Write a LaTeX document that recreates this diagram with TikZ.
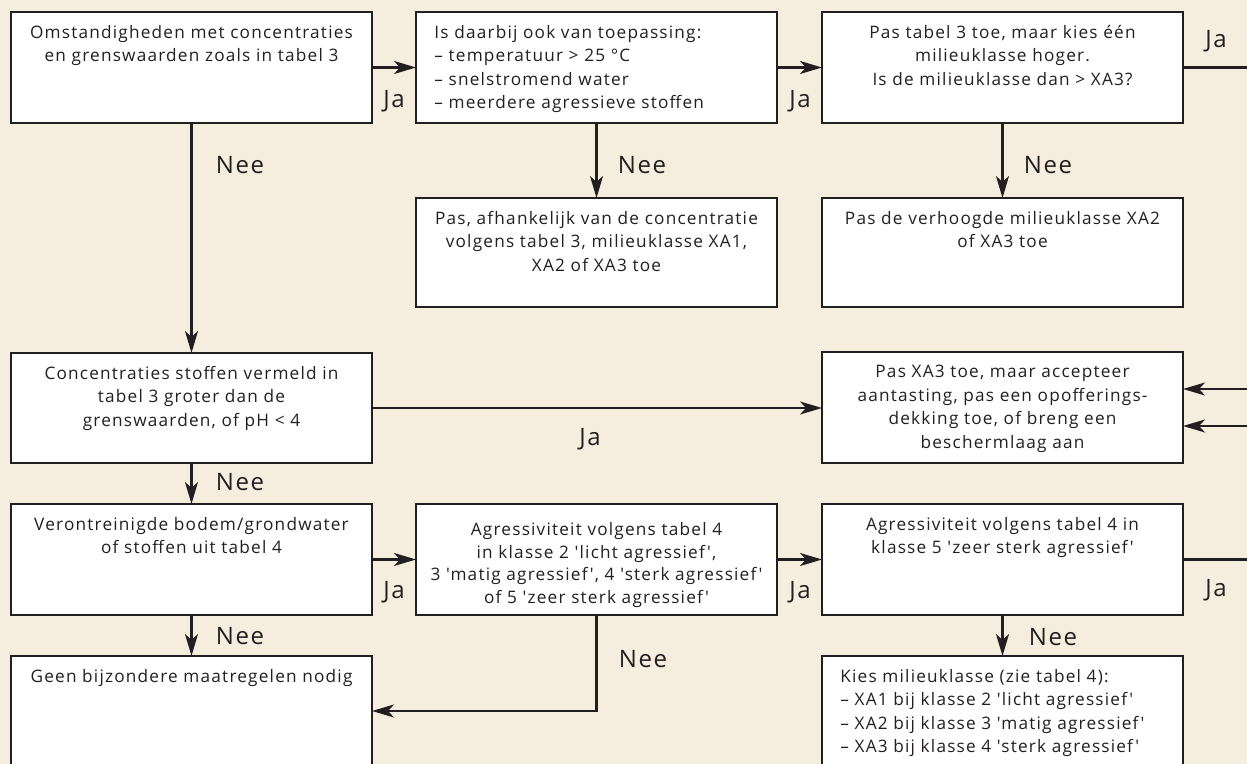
\documentclass[tikz,border=0pt]{standalone}
\usepackage{fontspec}
\setmainfont{Open Sans}[Ligatures=TeXOff,LetterSpace=7]
\usetikzlibrary{arrows.meta,positioning}
\definecolor{bgbeige}{RGB}{245,238,222}
\definecolor{ink}{RGB}{35,31,32}

\begin{document}
\begin{tikzpicture}[x=0.5pt,y=-0.5pt,
    box/.style={draw=ink,fill=white,line width=1.3pt,minimum width=180.5pt,inner sep=0pt,outer sep=0pt,anchor=north west},
    txt/.style={font=\fontsize{8.6}{11.7}\selectfont,text=ink,align=center,inner sep=0pt},
    lbl/.style={font=\fontsize{12}{14}\selectfont,text=ink,inner sep=0pt},
    flow/.style={draw=ink,line width=1.2pt,-{Stealth[length=11pt,width=6.5pt,inset=3pt]}}]
    \useasboundingbox (0,0) rectangle (1247,764);
    \clip (0,0) rectangle (1247,764);
    \fill[bgbeige] (0,0) rectangle (1247,764);

    %%% Boxes
    \node[box,minimum height=55.5pt] (c1r1) at (11,12) {};
    \node[box,minimum height=55.5pt] (c2r1) at (416,12) {};
    \node[box,minimum height=55.5pt] (c3r1) at (822,12) {};
    \node[box,minimum height=54.5pt] (c2r2) at (416,198) {};
    \node[box,minimum height=54.5pt] (c3r2) at (822,198) {};
    \node[box,minimum height=55pt] (c1r3) at (11,353) {};
    \node[box,minimum height=55.5pt] (c3r3) at (822,352) {};
    \node[box,minimum height=55.5pt] (c1r4) at (11,504) {};
    \node[box,minimum height=55.5pt] (c2r4) at (416,504) {};
    \node[box,minimum height=55.5pt] (c3r4) at (822,504) {};
    \node[box,minimum height=65pt] (c1r5) at (11,656) {};
    \node[box,minimum height=65pt] (c3r5) at (822,656) {};

    %%% Texts
    \node[txt,below=6.5pt of c1r1.north] (c1r1t) {Omstandigheden met concentraties\\en grenswaarden zoals in tabel 3};
    \node[txt,align=left,below right=6.5pt and 9pt of c2r1.north west] (c2r1t) {Is daarbij ook van toepassing:\\– temperatuur > 25 °C\\– snelstromend water\\– meerdere agressieve stoffen};
    \node[txt,below=6.5pt of c3r1.north] (c3r1t) {Pas tabel 3 toe, maar kies één\\milieuklasse hoger.\\Is de milieuklasse dan > XA3?};
    \node[txt,below=6.5pt of c2r2.north] (c2r2t) {Pas, afhankelijk van de concentratie\\volgens tabel 3, milieuklasse XA1,\\XA2 of XA3 toe};
    \node[txt,below=6.5pt of c3r2.north] (c3r2t) {Pas de verhoogde milieuklasse XA2\\of XA3 toe};
    \node[txt,below=6.5pt of c1r3.north] (c1r3t) {Concentraties stoffen vermeld in\\tabel 3 groter dan de\\grenswaarden, of pH < 4};
    \node[txt,below=6.5pt of c3r3.north] (c3r3t) {Pas XA3 toe, maar accepteer\\aantasting, pas een opofferings-\\dekking toe, of breng een\\beschermlaag aan};
    \node[txt,below=6.5pt of c1r4.north] (c1r4t) {Verontreinigde bodem/grondwater\\of stoffen uit tabel 4};
    \node[txt,font=\fontsize{8.6}{11.3}\selectfont,below=9pt of c2r4.north] (c2r4t) {Agressiviteit volgens tabel 4\\in klasse 2 'licht agressief',\\3 'matig agressief', 4 'sterk agressief'\\of 5 'zeer sterk agressief'};
    \node[txt,below=6.5pt of c3r4.north] (c3r4t) {Agressiviteit volgens tabel 4 in\\klasse 5 'zeer sterk agressief'};
    \node[txt,below=6.5pt of c1r5.north] (c1r5t) {Geen bijzondere maatregelen nodig};
    \node[txt,align=left,below right=6.5pt and 9pt of c3r5.north west] (c3r5t) {Kies milieuklasse (zie tabel 4):\\– XA1 bij klasse 2 'licht agressief'\\– XA2 bij klasse 3 'matig agressief'\\– XA3 bij klasse 4 'sterk agressief'};

    %%% Connectors
    \draw[flow] (c1r1.east) -- (c2r1.west);
    \draw[flow] (c2r1.east) -- (c3r1.west);
    \draw[flow] (c1r1.south) -- (c1r3.north);
    \draw[flow] (c2r1.south) -- (c2r2.north);
    \draw[flow] (c3r1.south) -- (c3r2.north);
    \draw[flow] (c1r3.east) -- (c1r3.east -| c3r3.west);
    \draw[flow] (c1r3.south) -- (c1r4.north);
    \draw[flow] (c1r4.east) -- (c2r4.west);
    \draw[flow] (c2r4.east) -- (c3r4.west);
    \draw[flow] (c1r4.south) -- (c1r5.north);
    \draw[flow] (c3r4.south) -- (c3r5.north);
    \draw[flow] (c2r4.south) |- ([yshift=5pt]c1r5.east);
    % both Ja-loops leave the picture on the right
    \draw[flow] (c3r1.east) -- ++(82,0) |- ([yshift=9.25pt]c3r3.east);
    \draw[flow] (c3r4.east) -- ++(72,0) |- ([yshift=-9.25pt]c3r3.east);

    %%% Labels
    \node[lbl] (ja1) at (394,101) {Ja};
    \node[lbl] (ja2) at (800,101) {Ja};
    \node[lbl] (ja3) at (1216,41) {Ja};
    \node[lbl] (ja4) at (590,439) {Ja};
    \node[lbl] (ja5) at (394,592) {Ja};
    \node[lbl] (ja6) at (800,592) {Ja};
    \node[lbl] (ja7) at (1216,590) {Ja};
    \node[lbl] (nee1) at (240,165) {Nee};
    \node[lbl] (nee2) at (642,165) {Nee};
    \node[lbl] (nee3) at (1048,165) {Nee};
    \node[lbl] (nee4) at (240,482) {Nee};
    \node[lbl] (nee5) at (240,636) {Nee};
    \node[lbl] (nee6) at (643,659) {Nee};
    \node[lbl] (nee7) at (1053,637) {Nee};
\end{tikzpicture}
\end{document}
